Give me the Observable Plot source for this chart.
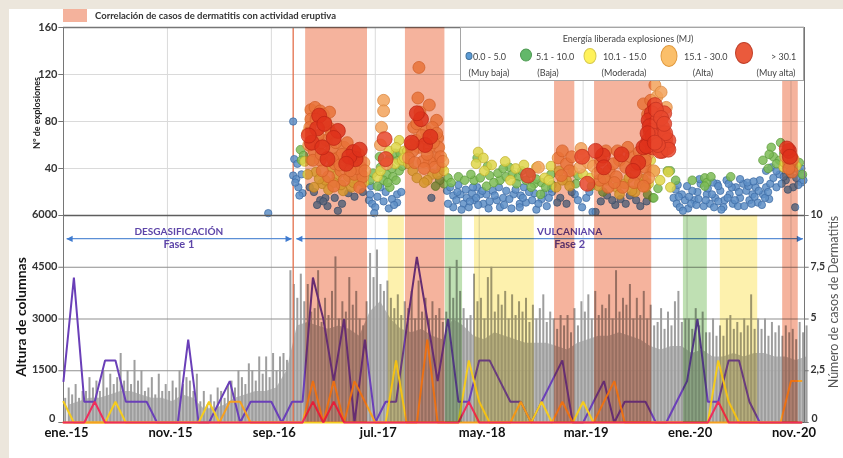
<!DOCTYPE html>
<html><head><meta charset="utf-8">
<script src="https://cdn.jsdelivr.net/npm/d3@7"></script>
<script src="https://cdn.jsdelivr.net/npm/@observablehq/plot@0.6"></script>
<style>
html,body{margin:0;padding:0;}
body{width:843px;height:458px;background:#ece6dc;overflow:hidden;font-family:Lato,'Open Sans',sans-serif;}
#wrap{position:relative;width:843px;height:458px;}
#panel{position:absolute;left:9px;top:9px;right:0;bottom:0;background:#fff;}
.layer{position:absolute;left:0;top:0;}
.blend{mix-blend-mode:multiply;}
.abs{position:absolute;white-space:nowrap;}
.rot{transform:translate(-50%,-50%) rotate(-90deg);}
#legend{position:absolute;left:460px;top:27px;width:344px;height:54px;box-sizing:border-box;border:1px solid #a5a5a5;background:#fff;font-size:9px;color:#444;}
#legend .e{position:absolute;border-radius:50%;box-sizing:border-box;border:1px solid;transform:translate(-50%,-50%);}
#legend .t{position:absolute;white-space:nowrap;transform:translate(0,-50%);}
#legend .s{position:absolute;white-space:nowrap;transform:translate(-50%,-50%);}
</style></head>
<body><div id="wrap"><div id="panel"></div></div>
<script>
// ---------- data ----------
const monthTicks = [0, 10, 20, 30, 40, 50, 60, 70];   // months since ene.-15
const monthLabels = ["ene.-15", "nov.-15", "sep.-16", "jul.-17", "may.-18", "mar.-19", "ene.-20", "nov.-20"];
const explosionTicks = [40, 80, 120, 160];
const columnTicks = [0, 1500, 3000, 4500, 6000];
const caseTicks = [0, 2.5, 5, 7.5, 10];
const caseTickLabels = ["0", "2,5", "5", "7,5", "10"];

// bands (month ranges)
const eruptiveBands = [[23.3, 29.25], [32.9, 36.7], [47.25, 49.2], [51.1, 56.6], [69.2, 70.7]];
const greenBands = [[36.75, 38.4], [59.65, 61.95]];
const yellowBands = [[31.25, 32.8], [39.55, 45.3], [63.2, 66.8]];

const phases = [
  {name: "DESGASIFICACIÓN", label: "Fase 1", start: 0, end: 22.1, labelAt: 11.1},
  {name: "VULCANIANA", label: "Fase 2", start: 22.1, end: 71.3, labelAt: 48.7}
];

// monthly dermatitis cases (month 0 = ene.-15)
const casesPurple = [2,7,1,1,3,3,1,1,1,0, 0,0,4,0,0,1,2,0,1,1, 1,0,1,1,7,5,2,5,0,4, 0,1,1,4.5,8,5,2,5,1,1, 3,3,2,1,1,0,1,2,3,0, 0,1,2,0,1,1,1,0,0,1, 2,5,1,1,3,3,1,0,0,0, 0,0];
const casesOrange = [0,0,0,0,0,0,0,0,0,0, 0,0,0,0,0,0,1,1,0,0, 0,0,0,0,2,0,2,0,2,1, 0,0,0,0,0,4,0,0,0,0, 0,0,0,0,1,0,0,0,1,0, 0,0,1,2,0,0,0,0,0,0, 0,0,0,0,0,0,0,0,0,0, 2,2];
const casesYellow = [1,0,0,0,0,1,0,0,0,0, 0,0,0,0,1,0,0,0,0,0, 0,0,0,0,0,0,0,0,0,0, 0,0,3,0,0,0,0,0,0,3, 1,0,0,0,0,0,1,0,0,0, 1,0,0,0,0,0,0,0,0,0, 0,0,0,3,1,0,0,0,0,0, 0,0];
const casesRed = [0,0,0,1,0,0,0,0,0,0, 0,0,0,0,0,0,0,0,0,0, 0,0,0,0,1,0,1,0,0,0, 0,0,0,0,0,0,0,0,0,1, 0,0,0,0,0,0,0,0,0,0, 0,0,0,0,0,0,0,0,0,0, 0,0,0,1,0,0,0,0,0,0, 0,0];

// column heights: typical (dense) level per month, and three peak readings per month
const columnBase = [500,600,700,700,800,900,900,800,700,700, 600,800,700,400,400,500,700,800,900,900,
 1000,1500,2800,2900,2800,2700,2800,2700,2500,3200, 3500,3000,2700,2600,2700,2500,2400,3000,2800,2500,
 2400,2600,2500,2400,2300,2300,2300,2200,2100,2300, 2400,2500,2500,2600,2500,2400,2200,2100,2200,2200,
 2000,2100,1900,1900,2000,1900,2000,2000,1900,1900, 1800,1900];
const columnHeights = [
 700,1000,800, 1100,700,900, 900,1300,1000, 1200,900,1500, 1000,1400,1100, 1300,2000,1200, 1500,1100,1800, 1200,1500,900, 1000,1300,800, 1400,900,1100,
 900,1200,1000, 1500,1100,1300, 1200,900,1400, 600,900,500, 800,600,1000, 900,700,1100, 1200,1000,1500, 1300,1100,1700, 1500,1200,1900, 1400,1900,1300,
 2000,1500,1900, 2000,1800,4400, 4000,3600,4300, 3500,4000,3200, 3300,4400,2900, 3600,3100,3800, 4800,3000,3500, 3200,4200,3400, 3800,3000,2800, 3500,4900,4200,
 5000,4000,3800, 4100,3600,3300, 3700,3100,3500, 3300,3800,3000, 4100,3200,3600, 3000,3500,3100, 3300,2900,3200, 4500,3600,4700, 3800,3300,3000, 3100,4300,3500,
 3600,3000,4200, 4500,3200,3700, 3400,3800,3000, 3700,3100,3500, 3200,3600,2900, 3400,3000,3300, 3700,2900,3200, 3000,2700,3100, 2800,3100,2600, 3300,2800,3500,
 3200,3700,3000, 3800,3100,3400, 3300,3700,3000, 4400,3200,3600, 3400,4000,3000, 3600,3100,3800, 3000,3400,2800, 2900,3300,2700, 3200,2800,3500, 3800,2900,3000,
 3000,2700,3300, 2800,3200,2600, 2600,3000,2500, 2800,2500,3000, 3100,2700,2900, 2600,3000,2800, 3700,2700,3000, 2700,3000,2500, 2900,2600,2800, 2500,2800,2600,
 2700,2400,2900, 2600,2800
];

// explosions per day [month, count] by energy class
const dotsMuyBaja = [[19.7,2],[22.1,80],[22.2,48],[22.5,44],[22.1,34],[22.4,31],[22.9,35],[22.6,24],[23,19],[22.7,17],[22.3,28],
 [24.1,20],[25.2,15],[25.4,8],[26.1,15],[26.4,4],[24.7,13],[27.4,19],[25,12],[26.8,10],[28,16],[28.8,20],[23.7,24],[24.4,9],
 [29.4,13],[29.7,10],[30,7],[29.9,2],[30.2,16],[30.5,24],[32.1,18],[32.1,11],[29.5,18],[31,20],[31.6,14],[30.8,12],[31.3,6],[32.5,20],[29.6,25],[31.8,9],
 [35.4,15],[36.9,21],[37.2,24],[37.5,17],[37.8,13],[38.2,18],[38.5,10],[38.8,15],[39.3,19],[39.8,24],[37.5,7],[39,7],[39.5,13],[40.1,18],
 [39.4,24],[39.7,15],[40.7,18],[41.3,21],[41.7,13],[42.3,15],[42.6,21],[43.3,18],[43.9,10],[40.4,10],[42,7],
 [37,10],[37.9,20],[38.3,5],[38.7,22],[39.1,12],[39.9,9],[40.3,21],[40.9,6],[41.5,17],[41.9,24],[42.4,9],[42.9,14],[43.5,22],[43.1,6],[44,17],[44.5,11],[45.3,19],[45.5,5],[46,14],[46.5,8],[47,20],[38,26],[44.3,24],[46.9,23],
 [44.2,15],[45.1,13],[45.7,10],[46.7,15],[43.9,7],[41,12],[44.8,20],[46.2,19],
 [47.8,15],[48.4,10],[49.2,18],[49.5,13],[49.9,7],[50.3,15],[50.9,3],[48.9,20],[50.6,20],[51.7,12],[52.3,17],[53.1,9],[53.6,14],[54.5,17],[55.5,8],[56.1,12],[47.5,11],
 [52.8,13],[54.1,10],[55.1,13],[51.2,3],
 [58.7,15],[59,10],[59.3,7],[59.8,13],[60.1,6],[60.7,13],[61,20],[61.3,27],[61.9,18],[62.2,10],[62.7,15],[63.2,21],[63.6,13],[64.1,18],[64.4,10],[64.7,24],[65.1,15],[65.4,27],[65.7,21],[66,13],[66.3,18],[66.6,24],[67,30],[67.3,18],[67.6,24],[61.2,31],[62.9,27],[63.8,30],[65.1,31],[59.5,18],[60.4,10],[62.6,7],[63.5,7],[60.9,9],[64.9,8],[66.8,11],[67.9,14],
 [58.9,22],[59.2,16],[59.6,4],[60.2,16],[60.5,21],[61.1,14],[61.6,8],[62,23],[62.4,18],[63,12],[63.3,5],[63.9,15],[64.3,24],[64.6,13],[65,20],[65.5,8],[65.9,25],[66.2,10],[66.5,16],[66.9,21],[67.2,9],[67.5,15],[67.8,20],[60,25],[62.5,28],[64,27],[65.8,28],[59.1,26],[61.8,13],[63,25],[66.4,29],[68,27],
 [67.6,38],[68.3,32],[68.9,35],[69.5,30],[70.5,32],[70.8,38],[70.2,24],[71.1,34],[68.6,24],[68.1,41],[70.4,7],[69.1,27],[71,28],
 [69.9,35],[70.3,40],[71,40],[68.6,38],[69.3,33],[70.7,26],[69.7,22],[71.2,30]];
const dotsBaja = [[22.8,56],[23.1,51],[22.9,47],
 [29.5,30],[30.5,41],[31.4,49],[31.9,53],[32.2,47],[32.3,38],[31.1,35],[31.7,33],[30.2,25],[32.4,53],[30.8,30],[31.4,24],
 [29.8,36],[30.9,45],[31.6,40],[32,30],[31.2,28],[32.6,42],[30.4,50],
 [36.6,27],[37,32],[39.5,30],[39.8,49],[36.2,30],[35.8,25],
 [40.1,32],[41,34],[42,30],[42.6,33],[42.9,41],[40.7,25],
 [37.3,28],[38,33],[38.6,30],[39.2,35],[40.8,42],[41.4,28],[41.8,36],[42.3,40],[43.2,35],[43.8,33],[44.1,38],[44.9,36],[45.3,27],[46,28],[46.9,35],[47,26],
 [43.6,27],[44.5,30],[45,24],[45.5,31],[46.4,24],[45.9,18],
 [49.5,34],[49.3,27],[50.8,25],[51.9,20],[56.2,18],[57.2,23],
 [56.7,15],[58.1,38],[58.4,38],[56.8,15],
 [61.7,32],[61.9,28],[61.7,25],[60.5,30],[62.3,33],[58.9,30],[64.2,33],
 [68.1,58],[67.3,47],[67.8,40],[68.3,50],[68.9,47],[69.3,53],[68.6,44],[71.1,35],[69,62],[70.3,48],[70.8,45],[67.9,52]];
const dotsModerada = [[23.2,46],[23.8,47],[24.9,27],[24.3,37],[25.8,41],[26.3,34],[26.9,21],[27.4,33],[27.7,24],[28.3,30],[28.8,35],[24.1,24],
 [25.2,30],[26,28],[26.7,26],[27.9,28],[28.9,28],[25.5,22],[24.6,31],[23.5,35],
 [30.2,33],[32.3,64],[31.9,44],[32.6,47],[30.5,38],[31.3,55],[32,58],[32.8,55],
 [33.2,44],[33.6,38],[33.1,55],[35.5,35],[36.4,41],[32.8,49],[34,32],[35,30],[36,35],[34.7,28],[36.6,38],
 [39.9,54],[40.4,49],[39.7,44],[40.5,38],[41.2,43],[42.5,46],[43.5,40],[44.3,43],[46.9,42],[43,30],
 [45.5,41],[46.3,32],[46.7,30],
 [47.7,38],[48.4,30],[47.4,24],[48.7,25],[48,30],[49,38],
 [50,35],[50.7,32],[51.5,25],[52.3,30],[53.2,24],[54,27],[55,20],[55.8,31],[56.3,27],
 [54.4,32],[55.4,27],[56,24],[53.5,18],[54.7,21],[56.5,38],[56.5,47],[56.9,38],
 [58.2,37],[58.4,24],[57.4,30],
 [69.3,41],[69.8,48],[70.5,42],[69.4,45]];
const dotsAlta = [[23.8,90],[24.2,92],[24.7,89],[23.8,82],[25,86],[23.7,75],[25.5,75],[25.3,64],[24.7,61],[24.1,55],[25.8,56],[26.4,49],[27,58],[27.4,47],[28.3,47],[28.6,41],[24.7,47],[26.1,44],[26.7,38],[28,35],[28.8,33],[27,30],[25.5,33],[24.9,38],[24,47],[26,25],[28.5,24],
 [23.5,70],[24.5,68],[25.2,80],[25.8,70],[26.2,62],[26.8,52],[27.3,62],[27.8,44],[28.2,40],[28.9,45],[24.3,82],[25.6,88],[23.6,60],[24.8,52],[25.9,48],[26.6,43],[27.6,38],[28.4,52],[29,38],
 [30.8,98],[30.8,89],[30.6,75],[30.5,60],[31.1,44],
 [34.2,126],[34.1,100],[35.2,94],[34.3,88],[35.9,81],[33.7,75],[34.9,72],[35.5,75],
 [33.9,64],[34.9,65],[36,66],[36.1,58],[34.2,58],[35.2,58],[33.6,55],[35.8,49],[35.2,46],[33.2,49],[35.7,41],[34.6,46],
 [33.4,60],[34.5,68],[35,52],[35.6,62],[36.3,50],[33.8,45],[34.7,40],[36.5,46],[35.9,70],[34,78],
 [45.7,41],
 [47.6,49],[48.4,44],[48.7,38],[47.9,34],[48,55],[48.9,50],
 [49.8,57],[50,51],[49.7,41],[50.5,45],[51,42],
 [51.7,47],[52.5,38],[53.5,47],[54.1,41],[54.6,50],[55.7,49],[53.2,33],[55.1,35],[56,41],[53.8,24],[52.4,24],[51.6,30],
 [52.2,55],[52.9,44],[53.3,55],[54.3,58],[55,43],[55.4,54],[56.2,52],[51.4,36],[53,28],[54.9,28],[52,32],
 [56.9,111],[57.1,101],[55.8,95],[56,47],[56.8,38],[56.3,32],[55.8,25],[57.5,105],[56.5,98],[58,92],[56.2,86],
 [69.9,44],[70.1,37],[69.5,50],[70.2,48],[69.8,40]];
const dotsMuyAlta = [[24.6,85],[24.4,74],[23.9,62],[26.4,72],[25.4,48],[27.9,54],[28.1,48],[27.5,50],
 [25.1,78],[26,66],[23.6,68],[28.5,56],[27.2,44],[24.9,58],
 [30.9,65],[31,48],
 [34.4,82],[34,87],[34.8,60],[35.3,67],[33.5,62],
 [44.7,34],
 [50.4,27],[49.9,50],[51.9,51],[52,41],[51.2,55],[53.7,52],[55.3,45],[54.8,38],
 [56.9,94],[56.6,87],[57.8,87],[56.3,81],[57.1,80],[57.6,75],[56.5,72],[57.3,67],[57.9,65],[56.3,64],[56.7,58],[55.8,58],[57.6,55],[58.1,58],[57.7,70],[56.8,64],[58.2,64],[57.4,55],[56.1,59],
 [56.4,76],[57,90],[57.5,83],[56.7,68],[57.9,70],[58.2,56],[56.2,70],[57.2,60],[57.8,78],[56.9,62],
 [69.8,55],[69.6,57],[69.9,50]];

const energyRanges = ["0.0 - 5.0", "5.1 - 10.0", "10.1 - 15.0", "15.1 - 30.0", "> 30.1"];
const energyNames = ["(Muy baja)", "(Baja)", "(Moderada)", "(Alta)", "(Muy alta)"];

// ---------- styles ----------
const XMAX = 71.3;
const font = "Lato, 'Open Sans', sans-serif";
const base = {width: 843, height: 458, marginLeft: 63, marginRight: 39,
  x: {domain: [0, XMAX], axis: null},
  style: {background: "transparent", fontFamily: font, fontSize: "11px", overflow: "visible"}};
const TOP = {...base, marginTop: 27, marginBottom: 243, y: {domain: [0, 160], axis: null}};
const BOT = {...base, marginTop: 215, marginBottom: 36, y: {domain: [0, 6000], axis: null}};
const CAS = {...base, marginTop: 215, marginBottom: 36, y: {domain: [0, 10], axis: null}};
const axisColor = "#767676";
const boundary = phases[1].start;
const arrowLevel = 5330;

const classStyles = [
  {data: dotsMuyBaja, fill: "#5d8ec6", stroke: "#3c6aa3", r: 3.7},
  {data: dotsBaja, fill: "#7dbb55", stroke: "#5a9a3a", r: 4.3},
  {data: dotsModerada, fill: "#dfd64a", stroke: "#bfae2c", r: 4.9},
  {data: dotsAlta, fill: "#f2a25a", stroke: "#d9823a", r: 6},
  {data: dotsMuyAlta, fill: "#e8462c", stroke: "#c23020", r: 7.5}
];

const wrap = document.getElementById("wrap");
function add(svg, blend) {
  svg.classList.add("layer");
  if (blend) svg.classList.add("blend");
  wrap.appendChild(svg);
}
const tickText = {fontWeight: "bold", fontSize: 11, fill: "#333"};

// ---------- top panel: explosions ----------
add(Plot.plot({...TOP, marks: [
  Plot.ruleY([40, 80, 120], {y: d => d, stroke: "#dadada"}),
  Plot.ruleX(monthTicks.slice(1), {x: d => d, stroke: "#dadada"}),
  Plot.ruleX([boundary], {x: d => d, stroke: "#e4704c", strokeWidth: 1.3}),
  ...classStyles.map(c => Plot.dot(c.data, {x: d => d[0], y: d => d[1], r: c.r, fill: c.fill, stroke: c.stroke, strokeWidth: 0.7, fillOpacity: 0.85})),
  Plot.ruleY([160], {y: d => d, stroke: axisColor, strokeWidth: 1.3}),
  Plot.ruleX([0, XMAX], {x: d => d, stroke: axisColor}),
  Plot.ruleY(explosionTicks, {y: d => d, x1: () => -0.45, x2: () => 0, stroke: axisColor}),
  Plot.text(explosionTicks, {y: d => d, frameAnchor: "left", dx: -6, textAnchor: "end", text: d => String(d), ...tickText})
]}));

// ---------- bottom panel: column heights ----------
add(Plot.plot({...BOT, marks: [
  Plot.ruleX(monthTicks.slice(1), {x: d => d, stroke: "#d6d6d6"}),
  Plot.ruleY([1500, 3000, 4500], {y: d => d, stroke: "#8f8f8f"}),
  Plot.areaY(columnBase, {x: (d, i) => i + 0.5, y: d => d, fill: "#b2b2b2", fillOpacity: 0.9}),
  Plot.ruleX(columnHeights, {x: (d, i) => Math.floor(i / 3) + ((i % 3) + 0.5) / 3, y1: () => 0, y2: d => d, stroke: "#9e9e9e", strokeWidth: 2}),
  Plot.ruleX([boundary], {x: d => d, stroke: "#e4704c", strokeWidth: 1.3}),
  Plot.ruleY([6000], {y: d => d, stroke: "#5e5e5e", strokeWidth: 1.3}),
  Plot.ruleY([0], {y: d => d, stroke: "#5e5e5e"}),
  Plot.ruleX([0, XMAX], {x: d => d, stroke: axisColor}),
  Plot.ruleY(columnTicks, {y: d => d, x1: () => -0.45, x2: () => 0, stroke: axisColor}),
  Plot.text(columnTicks.filter(d => d > 0), {y: d => d, frameAnchor: "left", dx: -6, dy: -1, textAnchor: "end", text: d => String(d), ...tickText}),
  Plot.text(columnTicks.filter(d => d === 0), {y: d => d, frameAnchor: "left", dx: -8, dy: -4, textAnchor: "end", text: d => String(d), ...tickText}),
  Plot.text(monthTicks, {x: d => d, frameAnchor: "bottom", dy: 14, dx: 3, text: (d, i) => monthLabels[i], fontWeight: "bold", fontSize: 13, fill: "#111"}),
  Plot.link(phases, {x1: d => d.start + 0.3, x2: d => d.end - 0.15, y1: () => arrowLevel, y2: () => arrowLevel, stroke: "#5b8fd6", strokeWidth: 1.2}),
  Plot.text(phases, {x: d => d.start + 0.3, y: () => arrowLevel, text: () => "◀", textAnchor: "start", fontFamily: "DejaVu Sans", fontSize: 8, fill: "#3f7bd0"}),
  Plot.text(phases, {x: d => d.end - 0.15, y: () => arrowLevel, text: () => "▶", textAnchor: "end", fontFamily: "DejaVu Sans", fontSize: 8, fill: "#3f7bd0"}),
  Plot.text(phases, {x: d => d.labelAt, y: () => arrowLevel, dy: -7, text: d => d.name, fontWeight: "bold", fontSize: 10, fill: "#5d45a8"}),
  Plot.text(phases, {x: d => d.labelAt, y: () => arrowLevel, dy: 6, text: d => d.label, fontWeight: "bold", fontSize: 11, fill: "#5d45a8"})
]}));

// ---------- dermatitis cases (right axis) ----------
const caseLine = (vals, stroke) => Plot.line(vals, {x: (d, i) => i, y: d => d, stroke, strokeWidth: 2, strokeLinejoin: "miter"});
add(Plot.plot({...CAS, marks: [
  caseLine(casesPurple, "#6a3fb8"),
  caseLine(casesYellow, "#f5cc1e"),
  caseLine(casesOrange, "#f5a020"),
  caseLine(casesRed, "#ee2d5c"),
  Plot.ruleY(caseTicks, {y: d => d, x1: () => XMAX, x2: () => XMAX + 0.45, stroke: axisColor}),
  Plot.text(caseTicks.filter(d => d > 0), {y: d => d, frameAnchor: "right", dx: 6, dy: -1, textAnchor: "start", text: d => caseTickLabels[caseTicks.indexOf(d)], ...tickText, fontSize: 10.5}),
  Plot.text(caseTicks.filter(d => d === 0), {y: d => d, frameAnchor: "right", dx: 7, dy: -4, textAnchor: "start", text: d => caseTickLabels[caseTicks.indexOf(d)], ...tickText, fontSize: 10.5})
]}));

// ---------- band overlays (multiply) ----------
add(Plot.plot({...TOP, marks: [
  Plot.rect(eruptiveBands, {x1: d => d[0], x2: d => d[1], fill: "#f5b39d"})
]}), true);
add(Plot.plot({...BOT, marks: [
  Plot.rect(eruptiveBands, {x1: d => d[0], x2: d => d[1], fill: "#f5b39d"}),
  Plot.rect(greenBands, {x1: d => d[0], x2: d => d[1], fill: "#bfe0b3"}),
  Plot.rect(yellowBands, {x1: d => d[0], x2: d => d[1], fill: "#fdf1ad"})
]}), true);

// ---------- html texts ----------
function div(cls, css, text) {
  const el = document.createElement("div");
  el.className = cls; el.style.cssText = css; el.textContent = text;
  wrap.appendChild(el); return el;
}
div("abs", "left:63px;top:9px;width:24px;height:13px;background:#f4b29c;", "");
div("abs", "left:95px;top:15px;transform:translate(0,-50%);font-weight:bold;font-size:9.5px;color:#333;", "Correlación de casos de dermatitis con actividad eruptiva");
div("abs rot", "left:36px;top:113px;font-weight:bold;font-size:9px;color:#222;", "Nº de explosiones");
div("abs rot", "left:20px;top:317px;font-weight:bold;font-size:14px;color:#111;", "Altura de columnas");
div("abs rot", "left:833px;top:302px;font-size:12.5px;color:#555;", "Número de casos de Dermatitis");

const legend = document.createElement("div");
legend.id = "legend";
wrap.appendChild(legend);
const lg = (cls, css, text) => { const e = document.createElement("div"); e.className = cls; e.style.cssText = css; e.textContent = text; legend.appendChild(e); };
lg("s", "left:167px;top:10px;", "Energía liberada explosiones (MJ)");
const legendMarks = [
  {cx: 8, cy: 28, w: 7, h: 8, fill: "#5b9bd5", stroke: "#41719c", tx: 12, sx: 28},
  {cx: 65, cy: 27, w: 12, h: 13, fill: "#63b86a", stroke: "#4e9a52", tx: 75, sx: 87},
  {cx: 129, cy: 28, w: 13, h: 16, fill: "#fff25a", stroke: "#d6c84a", tx: 142, sx: 163},
  {cx: 208, cy: 28, w: 17, h: 22, fill: "#fbbf6a", stroke: "#e09a40", tx: 223, sx: 242},
  {cx: 283, cy: 25, w: 18, h: 22, fill: "#ea5a3c", stroke: "#c0402a", tx: 310, sx: 315}
];
legendMarks.forEach((m, i) => {
  lg("e", `left:${m.cx}px;top:${m.cy}px;width:${m.w}px;height:${m.h}px;background:${m.fill};border-color:${m.stroke};`, "");
  lg("t", `left:${m.tx}px;top:28px;`, energyRanges[i]);
  lg("s", `left:${m.sx}px;top:44px;`, energyNames[i]);
});
</script>
</body></html>
